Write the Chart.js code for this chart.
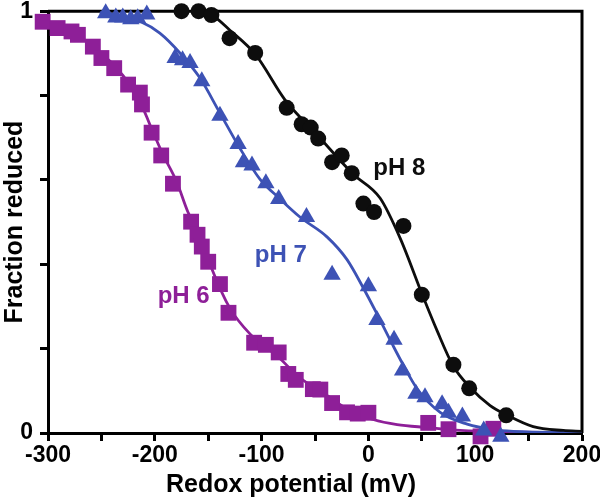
<!DOCTYPE html>
<html>
<head>
<meta charset="utf-8">
<script src="https://cdn.jsdelivr.net/npm/chart.js@4.4.1/dist/chart.umd.min.js"></script>
<style>html,body{margin:0;padding:0;background:#fff}canvas{display:block}</style>
</head>
<body>
<canvas id="c" width="600" height="502"></canvas>
<script>
// ---- tick labels ----
const xTickLabels = [-300, -200, -100, 0, 100, 200];
const yTickLabels = [0, 1];

// ---- measured points (read from the figure) ----
// pH 6 (squares)
const ph6Potential = [-305,-291,-278,-272,-258,-250,-238,-225,-214,-212,-203,-194,-183,-166,-160,-156,-150,-139,-131,-107,-96,-84,-75,-68,-52,-45,-34,-20,-10,0,56,75,105,117];
const ph6Fraction  = [0.975,0.960,0.952,0.944,0.916,0.889,0.865,0.826,0.807,0.779,0.712,0.658,0.591,0.501,0.470,0.442,0.406,0.353,0.285,0.214,0.209,0.191,0.140,0.126,0.104,0.103,0.071,0.049,0.046,0.048,0.024,0.009,-0.008,0.010];
// pH 7 (triangles)
const ph7Potential = [-246,-236.5,-230,-222.5,-216,-207.5,-181,-174,-167,-156,-139,-122,-117,-109,-96,-84,-58,-34,0,8,24,32,44.5,53,69,75,88,108,124];
const ph7Fraction  = [0.995,0.985,0.985,0.981,0.983,0.992,0.889,0.884,0.877,0.834,0.752,0.685,0.642,0.634,0.592,0.555,0.512,0.375,0.348,0.268,0.221,0.148,0.093,0.085,0.068,0.048,0.039,0.006,-0.009];
// pH 8 (circles)
const ph8Potential = [-175,-159,-147,-130,-106,-76.5,-62.5,-54,-47,-34,-25,-15.6,-4.7,5.3,32.8,50,79.6,94.4,129];
const ph8Fraction  = [1.0,1.0,0.991,0.936,0.901,0.771,0.732,0.724,0.698,0.642,0.658,0.616,0.544,0.524,0.491,0.328,0.162,0.106,0.042];

// ---- fitted curves (samples) ----
const fit6Potential = [-300,-279.7,-256.2,-237.5,-223.4,-211.2,-201.9,-192.5,-179.4,-169,-157.8,-145.6,-129.7,-110.9,-85.6,-64.1,-38.8,-17.2,4.4,26.9,55,85.9,142.2,200];
const fit6Fraction  = [0.971,0.955,0.912,0.870,0.825,0.770,0.715,0.661,0.595,0.524,0.470,0.383,0.296,0.235,0.183,0.131,0.089,0.053,0.032,0.020,0.013,0.006,0.002,0.0];
const fit7Potential = [-251.5,-232.8,-214,-195.3,-176.5,-157.8,-139.1,-120.3,-101.6,-82.8,-64.1,-38.8,-20,-5,8.1,23.1,32.5,45.6,67.2,92.5,116.9,135.6,200];
const fit7Fraction  = [0.997,0.990,0.976,0.948,0.901,0.842,0.759,0.675,0.602,0.555,0.512,0.465,0.411,0.345,0.282,0.207,0.162,0.105,0.049,0.021,0.008,0.004,0.001];
const fit8Potential = [-165,-157.8,-146.6,-129.7,-105.3,-78.1,-49.1,-14.4,10.9,29.7,50.3,64.4,79.4,95.3,114,130,154.3,182.5,200];
const fit8Fraction  = [1.0,0.999,0.991,0.955,0.896,0.790,0.710,0.614,0.557,0.462,0.329,0.242,0.159,0.108,0.065,0.042,0.015,0.006,0.004];

// ---- series labels ----
const seriesNames = ['pH 8', 'pH 7', 'pH 6'];
const seriesLabelPotential = [29, -82, -173];
const seriesLabelFraction = [0.627, 0.422, 0.324];

const BLACK = '#0d0d0d', BLUE = '#3d52b5', PURPLE = '#8e1f98';
const seriesColors = [BLACK, BLUE, PURPLE];
const FONT = "'Liberation Sans', Arial, sans-serif";

const pts = (xs, ys) => xs.map((x, i) => ({x, y: ys[i]}));

const framePlugin = {
  id: 'frame',
  beforeDatasetsDraw(chart) {
    const {ctx, chartArea: a} = chart;
    ctx.save();
    ctx.strokeStyle = '#000';
    ctx.lineWidth = 3;
    ctx.beginPath();
    ctx.moveTo(a.left, a.top);
    ctx.lineTo(a.right, a.top);
    ctx.lineTo(a.right, a.bottom);
    ctx.stroke();
    ctx.restore();
  }
};

const labelPlugin = {
  id: 'seriesLabels',
  afterDatasetsDraw(chart) {
    const {ctx, scales: {x, y}} = chart;
    ctx.save();
    ctx.font = `bold 24px ${FONT}`;
    ctx.textAlign = 'center';
    ctx.textBaseline = 'middle';
    seriesNames.forEach((t, i) => {
      ctx.fillStyle = seriesColors[i];
      ctx.fillText(t, x.getPixelForValue(seriesLabelPotential[i]), y.getPixelForValue(seriesLabelFraction[i]));
    });
    ctx.restore();
  }
};

new Chart(document.getElementById('c'), {
  type: 'scatter',
  data: {
    datasets: [
      {label: 'pH 8', data: pts(ph8Potential, ph8Fraction), pointStyle: 'circle', pointRadius: 8,
       backgroundColor: BLACK, borderColor: BLACK, borderWidth: 0, clip: false, order: 0},
      {label: 'pH 7', data: pts(ph7Potential, ph7Fraction), pointStyle: 'triangle', pointRadius: 10,
       backgroundColor: BLUE, borderColor: BLUE, borderWidth: 0, clip: false, order: 0},
      {label: 'pH 6', data: pts(ph6Potential, ph6Fraction), pointStyle: 'rect', pointRadius: 11.2,
       backgroundColor: PURPLE, borderColor: PURPLE, borderWidth: 0, clip: false, order: 0},
      {type: 'line', label: 'fit pH 8', data: pts(fit8Potential, fit8Fraction), borderColor: BLACK, borderWidth: 2.8,
       pointRadius: 0, fill: false, cubicInterpolationMode: 'monotone', order: 1},
      {type: 'line', label: 'fit pH 7', data: pts(fit7Potential, fit7Fraction), borderColor: BLUE, borderWidth: 2.8,
       pointRadius: 0, fill: false, cubicInterpolationMode: 'monotone', order: 1},
      {type: 'line', label: 'fit pH 6', data: pts(fit6Potential, fit6Fraction), borderColor: PURPLE, borderWidth: 2.8,
       pointRadius: 0, fill: false, cubicInterpolationMode: 'monotone', order: 1}
    ]
  },
  options: {
    responsive: false,
    animation: false,
    layout: {padding: {left: 0, right: 18, top: 8, bottom: 0}},
    plugins: {
      legend: {display: false},
      tooltip: {enabled: false},
      title: {
        display: true, position: 'bottom', text: 'Redox potential (mV)', color: '#000',
        font: {family: FONT, size: 25, weight: 'bold', lineHeight: 1.2},
        padding: {top: 0, bottom: 2}
      }
    },
    scales: {
      x: {
        type: 'linear', min: -300, max: 200,
        afterFit(s) { s.height = 37; s.paddingLeft = 0; s.paddingRight = 0; },
        ticks: {
          stepSize: 50, autoSkip: false, maxRotation: 0, padding: 1, color: '#000',
          font: {family: FONT, size: 23, weight: 'bold'},
          callback: v => xTickLabels.includes(v) ? String(v) : ''
        },
        grid: {drawOnChartArea: false, drawTicks: true, tickLength: 8, tickWidth: 3, tickColor: '#000'},
        border: {display: true, width: 3, color: '#000'}
      },
      y: {
        type: 'linear', min: 0, max: 1,
        afterFit(s) { s.width = 48; s.paddingTop = 0; s.paddingBottom = 0; },
        title: {
          display: true, text: 'Fraction reduced', color: '#000',
          font: {family: FONT, size: 25, weight: 'bold', lineHeight: 1.2},
          padding: {top: 0, bottom: 0}
        },
        ticks: {
          stepSize: 0.2, autoSkip: false, padding: 7, color: '#000',
          font: {family: FONT, size: 23, weight: 'bold'},
          callback: v => yTickLabels.includes(v) ? String(v) : ''
        },
        grid: {drawOnChartArea: false, drawTicks: true, tickLength: 8, tickWidth: 3, tickColor: '#000'},
        border: {display: true, width: 3, color: '#000'}
      }
    }
  },
  plugins: [framePlugin, labelPlugin]
});
</script>
</body>
</html>
